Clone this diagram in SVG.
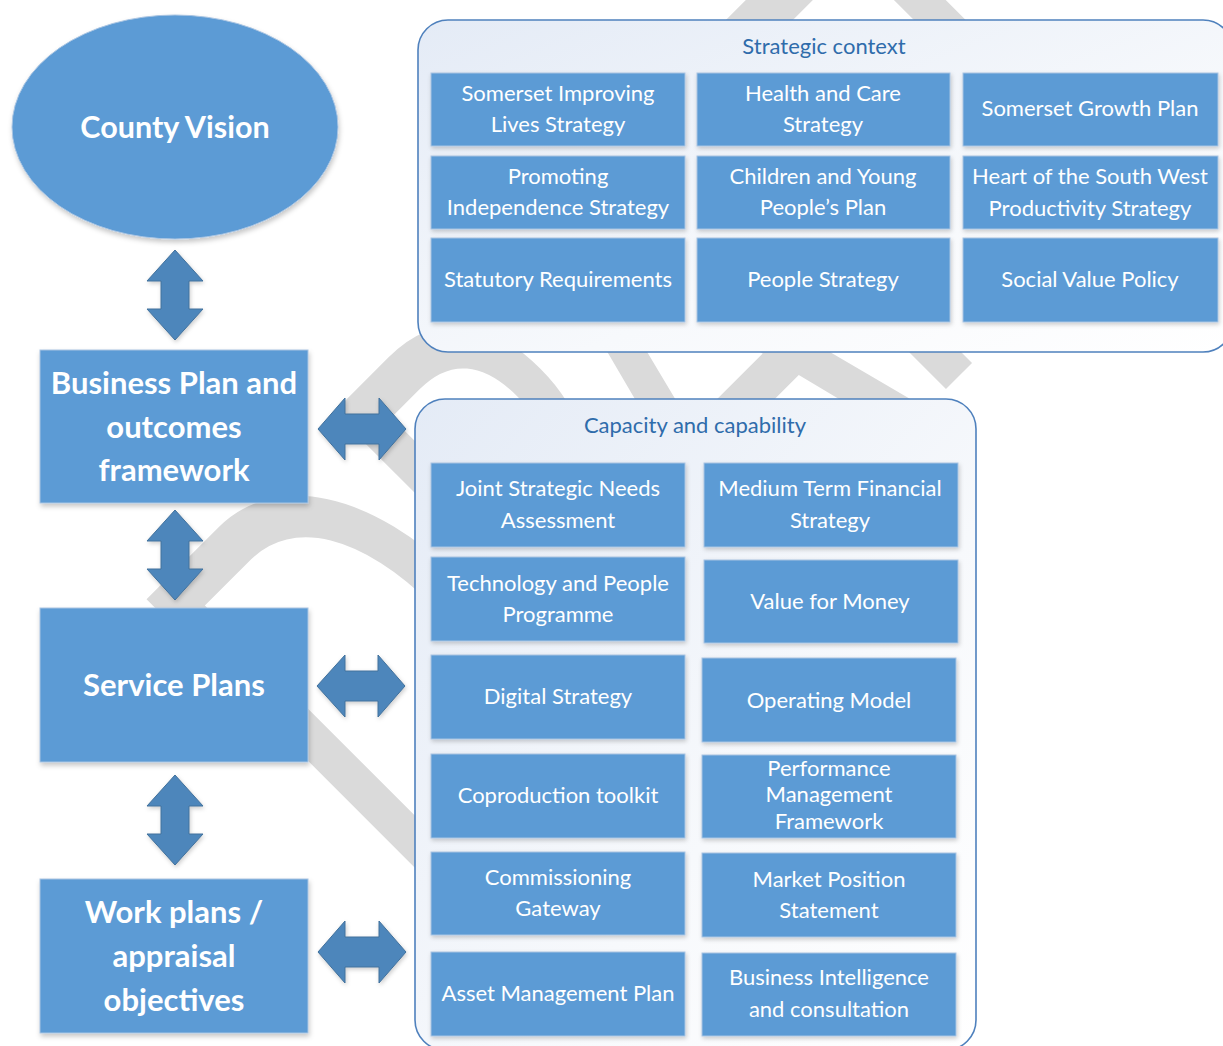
<svg xmlns="http://www.w3.org/2000/svg" width="1223" height="1046" viewBox="0 0 1223 1046">
<defs>
<filter id="sh" x="-10%" y="-10%" width="130%" height="140%"><feDropShadow dx="1" dy="3" stdDeviation="2.5" flood-color="#000" flood-opacity="0.22"/></filter>
<filter id="sh2" x="-10%" y="-10%" width="130%" height="140%"><feDropShadow dx="1" dy="2" stdDeviation="2" flood-color="#000" flood-opacity="0.2"/></filter>
<linearGradient id="pg" x1="0" y1="0" x2="1" y2="1"><stop offset="0" stop-color="#e4ebf6"/><stop offset="0.6" stop-color="#f7f9fc"/><stop offset="1" stop-color="#ffffff"/></linearGradient>
<style>
.wm{font-family:Lato,"Liberation Sans",sans-serif;font-size:380px;fill:#dadada}
.panel{fill:url(#pg);stroke:#4f81bd;stroke-width:1.6}
.box{fill:#5b9bd5;stroke:#a9c4e2;stroke-width:1}
.big{fill:#5b9bd5;stroke:#a9c4e2;stroke-width:1}
.t{font-family:Lato,"Liberation Sans",sans-serif;font-size:22px;fill:#fff;text-anchor:middle}
.tb{font-family:Lato,"Liberation Sans",sans-serif;font-weight:bold;font-size:31px;fill:#fff;text-anchor:middle}
.title{font-family:Lato,"Liberation Sans",sans-serif;font-size:22px;fill:#2f6cab;text-anchor:middle}
.arr{fill:#4e86bb;stroke:#41719c;stroke-width:1}
</style>
</defs>
<rect width="1223" height="1046" fill="#ffffff"/>
<g id="watermark" transform="translate(416.5,918.5) rotate(-45) scale(1,1.53)">
<text class="wm" x="0 265 465 714 893" y="0">DRAFT</text>
</g>
<g id="county-vision">
<ellipse cx="175" cy="127" rx="163" ry="112" class="big" filter="url(#sh)"/>
<text class="tb" x="175" y="138" style="font-size:30.5px">County Vision</text>
</g>
<g id="business-plan">
<rect x="40" y="350" width="268" height="153" class="big" filter="url(#sh)"/>
<text class="tb" x="174" y="394">Business Plan and</text>
<text class="tb" x="174" y="438">outcomes</text>
<text class="tb" x="174" y="481">framework</text>
</g>
<g id="service-plans">
<rect x="40" y="608" width="268" height="154" class="big" filter="url(#sh)"/>
<text class="tb" x="174" y="696">Service Plans</text>
</g>
<g id="work-plans">
<rect x="40" y="879" width="268" height="154" class="big" filter="url(#sh)"/>
<text class="tb" x="174" y="923">Work plans /</text>
<text class="tb" x="174" y="967">appraisal</text>
<text class="tb" x="174" y="1011">objectives</text>
</g>
<g id="strategic-context">
<rect x="418" y="20" width="815" height="332" rx="30" class="panel"/>
<text class="title" x="824" y="54">Strategic context</text>
<g id="sc-1"><rect x="431" y="73" width="254" height="73" class="box" filter="url(#sh2)"/><text class="t" x="558" y="101">Somerset Improving</text><text class="t" x="558" y="132">Lives Strategy</text></g>
<g id="sc-2"><rect x="697" y="73" width="253" height="73" class="box" filter="url(#sh2)"/><text class="t" x="823" y="101">Health and Care</text><text class="t" x="823" y="132">Strategy</text></g>
<g id="sc-3"><rect x="963" y="73" width="255" height="73" class="box" filter="url(#sh2)"/><text class="t" x="1090" y="116">Somerset Growth Plan</text></g>
<g id="sc-4"><rect x="431" y="156" width="254" height="73" class="box" filter="url(#sh2)"/><text class="t" x="558" y="184">Promoting</text><text class="t" x="558" y="215">Independence Strategy</text></g>
<g id="sc-5"><rect x="697" y="156" width="253" height="73" class="box" filter="url(#sh2)"/><text class="t" x="823" y="184">Children and Young</text><text class="t" x="823" y="215">People’s Plan</text></g>
<g id="sc-6"><rect x="963" y="156" width="255" height="73" class="box" filter="url(#sh2)"/><text class="t" x="1090" y="184">Heart of the South West</text><text class="t" x="1090" y="216">Productivity Strategy</text></g>
<g id="sc-7"><rect x="431" y="238" width="254" height="84" class="box" filter="url(#sh2)"/><text class="t" x="558" y="287">Statutory Requirements</text></g>
<g id="sc-8"><rect x="697" y="238" width="253" height="84" class="box" filter="url(#sh2)"/><text class="t" x="823" y="287">People Strategy</text></g>
<g id="sc-9"><rect x="963" y="238" width="255" height="84" class="box" filter="url(#sh2)"/><text class="t" x="1090" y="287">Social Value Policy</text></g>
</g>
<g id="capacity">
<rect x="415" y="399" width="561" height="651" rx="30" class="panel"/>
<text class="title" x="695" y="433">Capacity and capability</text>
<g id="cc-1"><rect x="431" y="463" width="254" height="84" class="box" filter="url(#sh2)"/><text class="t" x="558" y="496">Joint Strategic Needs</text><text class="t" x="558" y="528">Assessment</text></g>
<g id="cc-2"><rect x="704" y="463" width="254" height="84" class="box" filter="url(#sh2)"/><text class="t" x="830" y="496">Medium Term Financial</text><text class="t" x="830" y="528">Strategy</text></g>
<g id="cc-3"><rect x="431" y="557" width="254" height="84" class="box" filter="url(#sh2)"/><text class="t" x="558" y="591">Technology and People</text><text class="t" x="558" y="622">Programme</text></g>
<g id="cc-4"><rect x="704" y="560" width="254" height="83" class="box" filter="url(#sh2)"/><text class="t" x="830" y="609">Value for Money</text></g>
<g id="cc-5"><rect x="431" y="655" width="254" height="84" class="box" filter="url(#sh2)"/><text class="t" x="558" y="704">Digital Strategy</text></g>
<g id="cc-6"><rect x="702" y="658" width="254" height="84" class="box" filter="url(#sh2)"/><text class="t" x="829" y="708">Operating Model</text></g>
<g id="cc-7"><rect x="431" y="754" width="254" height="84" class="box" filter="url(#sh2)"/><text class="t" x="558" y="803">Coproduction toolkit</text></g>
<g id="cc-8"><rect x="702" y="755" width="254" height="83" class="box" filter="url(#sh2)"/><text class="t" x="829" y="776">Performance</text><text class="t" x="829" y="802">Management</text><text class="t" x="829" y="829">Framework</text></g>
<g id="cc-9"><rect x="431" y="852" width="254" height="83" class="box" filter="url(#sh2)"/><text class="t" x="558" y="885">Commissioning</text><text class="t" x="558" y="916">Gateway</text></g>
<g id="cc-10"><rect x="702" y="853" width="254" height="84" class="box" filter="url(#sh2)"/><text class="t" x="829" y="887">Market Position</text><text class="t" x="829" y="918">Statement</text></g>
<g id="cc-11"><rect x="431" y="952" width="254" height="84" class="box" filter="url(#sh2)"/><text class="t" x="558" y="1001">Asset Management Plan</text></g>
<g id="cc-12"><rect x="702" y="953" width="254" height="83" class="box" filter="url(#sh2)"/><text class="t" x="829" y="985">Business Intelligence</text><text class="t" x="829" y="1017">and consultation</text></g>
</g>
<g id="connectors" filter="url(#sh2)">
<path class="arr" d="M175,250 L203,281 L189,281 L189,309 L203,309 L175,340 L147,309 L161,309 L161,281 L147,281Z"/>
<path class="arr" d="M175,510 L203,541 L189,541 L189,569 L203,569 L175,600 L147,569 L161,569 L161,541 L147,541Z"/>
<path class="arr" d="M175,775 L203,806 L189,806 L189,834 L203,834 L175,865 L147,834 L161,834 L161,806 L147,806Z"/>
<path class="arr" d="M318,429 L345,398 L345,414 L379,414 L379,398 L406,429 L379,460 L379,444 L345,444 L345,460Z"/>
<path class="arr" d="M317,686 L345,655 L345,671 L378,671 L378,655 L405,686 L378,717 L378,701 L345,701 L345,717Z"/>
<path class="arr" d="M318,952 L345,921 L345,937 L379,937 L379,921 L406,952 L379,983 L379,967 L345,967 L345,983Z"/>
</g>
</svg>
